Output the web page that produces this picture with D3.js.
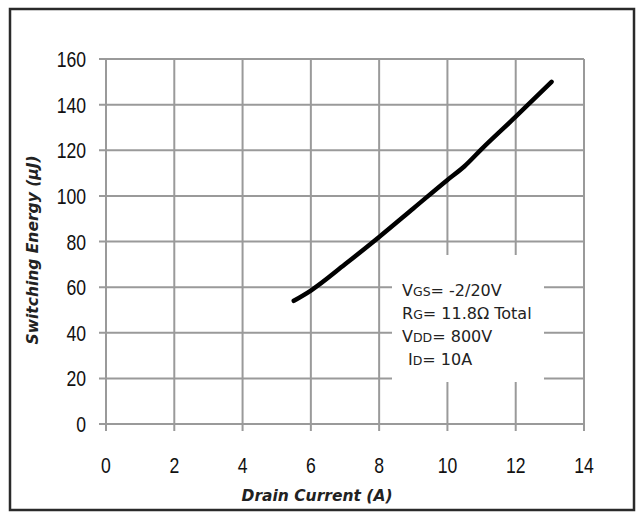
<!DOCTYPE html>
<html><head><meta charset="utf-8">
<script src="https://cdn.jsdelivr.net/npm/d3@7"></script>
<style>body{margin:0;background:#fff}svg{display:block}</style>
</head><body>
<svg id="c" width="644" height="521"></svg>
<script>
const current = [5.5, 6, 7, 8, 9, 10, 10.5, 11, 12, 13.05];
const energy  = [54, 58.5, 70, 82, 94.5, 107, 113, 120.5, 134.7, 150];
const xTicks = [0, 2, 4, 6, 8, 10, 12, 14];
const yTicks = [0, 20, 40, 60, 80, 100, 120, 140, 160];
const notes = [
  {main:"V", sub:"GS", rest:"= -2/20V", dx:0},
  {main:"R", sub:"G", rest:"= 11.8Ω Total", dx:0},
  {main:"V", sub:"DD", rest:"= 800V", dx:0},
  {main:"I", sub:"D", rest:"= 10A", dx:6}
];

const svg = d3.select("#c");
const x = d3.scaleLinear().domain([0,14]).range([106,584]);
const y = d3.scaleLinear().domain([0,160]).range([424,59]);
const grid = "#9a9a9a";

svg.append("rect").attr("x",10).attr("y",9).attr("width",624).attr("height",501)
  .attr("fill","none").attr("stroke","#2a2a2a").attr("stroke-width",2.5);

const g = svg.append("g");
g.selectAll(".vx").data(xTicks).join("line")
  .attr("x1",d=>x(d)).attr("x2",d=>x(d)).attr("y1",y(160)).attr("y2",y(0)+7)
  .attr("stroke",grid).attr("stroke-width",2);
g.selectAll(".hy").data(yTicks).join("line")
  .attr("y1",d=>y(d)).attr("y2",d=>y(d)).attr("x1",x(0)-7).attr("x2",x(14))
  .attr("stroke",grid).attr("stroke-width",2);

const tickFont = "'Liberation Sans',Arial,sans-serif";
g.selectAll(".xl").data(xTicks).join("text")
  .attr("transform",d=>`translate(${x(d)},473) scale(0.8,1)`).attr("text-anchor","middle")
  .attr("font-family",tickFont).attr("font-size",22).attr("fill","#111").text(d=>d);
g.selectAll(".yl").data(yTicks).join("text")
  .attr("transform",d=>`translate(86,${y(d)+8}) scale(0.8,1)`).attr("text-anchor","end")
  .attr("font-family",tickFont).attr("font-size",22).attr("fill","#111").text(d=>d);

g.append("rect").attr("x",392).attr("y",255).attr("width",152).attr("height",127).attr("fill","#fff");

const pts = current.map((c,i)=>[c, energy[i]]);
g.append("path").datum(pts)
  .attr("d", d3.line().x(d=>x(d[0])).y(d=>y(d[1])).curve(d3.curveMonotoneX))
  .attr("fill","none").attr("stroke","#000").attr("stroke-width",4.5).attr("stroke-linecap","round");

const nf = "'DejaVu Sans',Verdana,sans-serif";
notes.forEach((n,i)=>{
  const t = g.append("text").attr("x",402+n.dx).attr("y",296+i*23)
    .attr("font-family",nf).attr("font-size",16).attr("fill","#222");
  t.append("tspan").text(n.main);
  t.append("tspan").attr("font-size",12.5).text(n.sub);
  t.append("tspan").text(n.rest);
});

const tf = "'DejaVu Sans',Verdana,sans-serif";
svg.append("text").attr("x",317).attr("y",501).attr("text-anchor","middle")
  .attr("font-family",tf).attr("font-weight","bold").attr("font-style","italic")
  .attr("font-size",15.5).attr("fill","#222").text("Drain Current (A)");
svg.append("text").attr("transform","translate(38,250) rotate(-90)").attr("text-anchor","middle")
  .attr("font-family",tf).attr("font-weight","bold").attr("font-style","italic")
  .attr("font-size",15.5).attr("fill","#222").text("Switching Energy (µJ)");
</script>
</body></html>
